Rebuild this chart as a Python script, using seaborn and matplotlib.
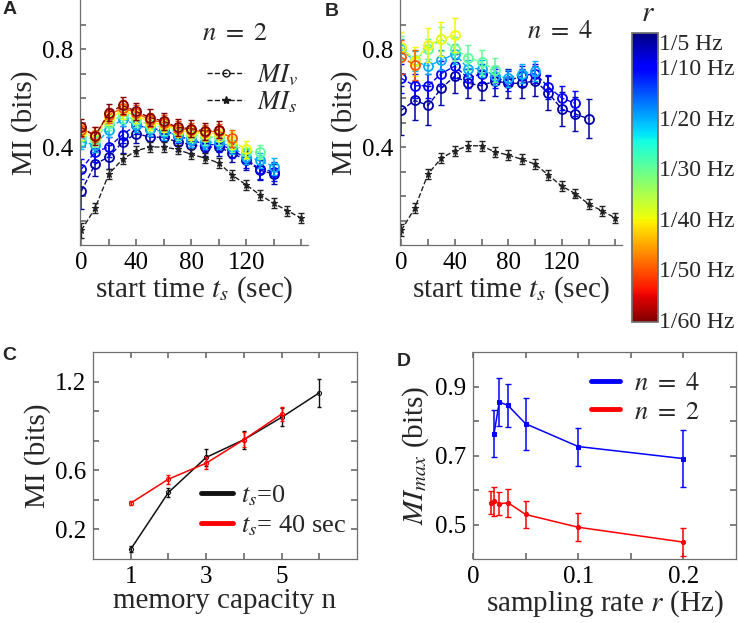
import matplotlib
matplotlib.use("Agg")
import matplotlib.pyplot as plt
from matplotlib.lines import Line2D
from matplotlib import cm, colors
import seaborn as sns

# sampling period 1/r (sec) of every MI_v curve, and the colorbar labels
periods = [5, 10, 20, 30, 40, 50, 60]
period_labels = ["1/5 Hz", "1/10 Hz", "1/20 Hz", "1/30 Hz", "1/40 Hz", "1/50 Hz", "1/60 Hz"]
start_times = [0, 10, 20, 30, 40, 50, 60, 70, 80, 90, 100, 110, 120, 130, 140, 150, 160]

# panel A, n = 2
mis_n2 = [0.06, 0.15, 0.29, 0.35, 0.385, 0.40, 0.40, 0.39, 0.37, 0.355, 0.335, 0.285, 0.245, 0.205, 0.17, 0.14, 0.11]
mis_err_n2 = [0.03, 0.02, 0.02, 0.02, 0.02, 0.02, 0.02, 0.02, 0.02, 0.02, 0.02, 0.02, 0.02, 0.02, 0.02, 0.02, 0.02]
miv_n2 = [
    [0.22, 0.33, 0.36, 0.42, 0.455, 0.44, 0.44, 0.42, 0.41, 0.40, 0.40, 0.375, 0.345, 0.305, 0.29],
    [0.31, 0.38, 0.40, 0.45, 0.49, 0.475, 0.47, 0.445, 0.43, 0.41, 0.41, 0.39, 0.35, 0.31, 0.30],
    [0.42, 0.41, 0.47, 0.515, 0.49, 0.475, 0.46, 0.45, 0.43, 0.42, 0.42, 0.40, 0.36, 0.345, 0.32],
    [0.44, 0.43, 0.50, 0.53, 0.51, 0.49, 0.48, 0.46, 0.45, 0.44, 0.44, 0.41, 0.38, 0.38],
    [0.46, 0.44, 0.52, 0.545, 0.53, 0.50, 0.49, 0.47, 0.46, 0.455, 0.455, 0.425, 0.39],
    [0.47, 0.45, 0.53, 0.56, 0.54, 0.51, 0.50, 0.475, 0.47, 0.46, 0.465, 0.435],
    [0.48, 0.445, 0.54, 0.57, 0.545, 0.52, 0.505, 0.48, 0.475, 0.465, 0.47],
]
miv_err_n2 = [
    [0.075, 0.05, 0.05, 0.045, 0.04, 0.035, 0.035, 0.035, 0.035, 0.035, 0.035, 0.035, 0.04, 0.04, 0.04],
    [0.04, 0.04, 0.04, 0.035, 0.035, 0.03, 0.03, 0.03, 0.03, 0.03, 0.03, 0.035, 0.035, 0.04, 0.04],
    [0.03, 0.03, 0.03, 0.03, 0.03, 0.03, 0.03, 0.03, 0.03, 0.03, 0.03, 0.03, 0.03, 0.03, 0.035],
    [0.03, 0.03, 0.03, 0.03, 0.03, 0.03, 0.03, 0.03, 0.03, 0.03, 0.03, 0.03, 0.03, 0.03],
    [0.03, 0.03, 0.03, 0.03, 0.03, 0.03, 0.03, 0.03, 0.03, 0.03, 0.03, 0.035, 0.035],
    [0.03, 0.03, 0.03, 0.03, 0.03, 0.03, 0.03, 0.03, 0.03, 0.03, 0.03, 0.035],
    [0.035, 0.035, 0.035, 0.035, 0.035, 0.035, 0.035, 0.035, 0.035, 0.035, 0.035],
]

# panel B, n = 4
mis_n4 = [0.06, 0.15, 0.29, 0.355, 0.385, 0.405, 0.405, 0.38, 0.367, 0.35, 0.33, 0.285, 0.24, 0.21, 0.167, 0.14, 0.11]
mis_err_n4 = [0.025, 0.02, 0.02, 0.02, 0.02, 0.02, 0.02, 0.02, 0.02, 0.02, 0.02, 0.02, 0.02, 0.02, 0.02, 0.02, 0.02]
miv_n4 = [
    [0.55, 0.59, 0.57, 0.64, 0.69, 0.66, 0.65, 0.67, 0.66, 0.66, 0.67, 0.62, 0.555, 0.535, 0.515],
    [0.68, 0.65, 0.65, 0.70, 0.73, 0.68, 0.70, 0.68, 0.67, 0.69, 0.70, 0.645, 0.60, 0.578],
    [0.80, 0.75, 0.73, 0.755, 0.78, 0.72, 0.72, 0.69, 0.68, 0.70, 0.71],
    [0.805, 0.755, 0.80, 0.84, 0.80, 0.765, 0.745, 0.715],
    [0.81, 0.75, 0.816, 0.84, 0.857],
    [0.766, 0.735],
    [],
]
miv_err_n4 = [
    [0.1, 0.08, 0.08, 0.07, 0.07, 0.06, 0.06, 0.06, 0.06, 0.06, 0.06, 0.07, 0.07, 0.07, 0.08],
    [0.06, 0.05, 0.05, 0.05, 0.05, 0.04, 0.04, 0.04, 0.04, 0.04, 0.04, 0.05, 0.05, 0.05],
    [0.04, 0.04, 0.03, 0.04, 0.04, 0.035, 0.035, 0.035, 0.035, 0.04, 0.04],
    [0.05, 0.04, 0.04, 0.05, 0.05, 0.05, 0.05, 0.05],
    [0.06, 0.06, 0.07, 0.07, 0.07],
    [0.07, 0.06],
    [],
]

# panel C
mem_n = [1, 2, 3, 4, 5, 6]
mi_ts0 = [0.066, 0.45, 0.687, 0.807, 0.958, 1.124]
mi_ts0_err = [0.02, 0.03, 0.055, 0.06, 0.06, 0.095]
mem_n_ts40 = [1, 2, 3, 4, 5]
mi_ts40 = [0.378, 0.54, 0.648, 0.807, 0.98]
mi_ts40_err = [0.015, 0.03, 0.04, 0.05, 0.05]

# panel D
rates_n4 = [0.02, 0.025, 0.0333, 0.05, 0.1, 0.2]
mimax_n4 = [0.763, 0.855, 0.845, 0.792, 0.726, 0.691]
mimax_n4_err = [0.068, 0.07, 0.063, 0.075, 0.055, 0.082]
rates_n2 = [0.0167, 0.02, 0.025, 0.0333, 0.05, 0.1, 0.2]
mimax_n2 = [0.563, 0.568, 0.56, 0.563, 0.529, 0.492, 0.449]
mimax_n2_err = [0.034, 0.042, 0.033, 0.04, 0.038, 0.04, 0.041]

sns.set_theme(style="ticks")
plt.rcParams["font.family"] = ["Liberation Serif", "DejaVu Serif"]
plt.rcParams["mathtext.fontset"] = "stix"

W, H = 738, 623
fig = plt.figure(figsize=(W / 100, H / 100), dpi=100)


def px_axes(left, top, width, height):
    return fig.add_axes([left / W, 1 - (top + height) / H, width / W, height / H])


GRAY = "#6e6e6e"
TICK_FS = 18
LABEL_FS = 21

norm = colors.Normalize(vmin=3.2, vmax=60.4)
cmap = plt.get_cmap("jet")


def style(ax, box=False):
    for s in ax.spines.values():
        s.set_color(GRAY)
        s.set_linewidth(0.9)
    ax.tick_params(direction="in", length=4, color=GRAY, labelsize=TICK_FS,
                   labelcolor="black", top=box, right=box, pad=5)
    if not box:
        sns.despine(ax=ax)


def draw_mi_panel(ax, mis, mis_err, miv, miv_err):
    for p, vals, errs in zip(periods, miv, miv_err):
        if not vals:
            continue
        c = cmap(norm(p))
        tt = start_times[:len(vals)]
        sns.lineplot(x=tt, y=vals, ax=ax, color=c, linestyle="--", linewidth=1,
                     marker="o", markersize=6.5, markerfacecolor="none",
                     markeredgecolor=c, markeredgewidth=1.3)
        ax.errorbar(tt, vals, yerr=errs, fmt="none", ecolor=c, elinewidth=1.1, capsize=2)
    sns.lineplot(x=start_times, y=mis, ax=ax, color="#222222", linestyle="--", linewidth=1,
                 marker="*", markersize=5, markeredgecolor="#222222", markeredgewidth=0.8)
    ax.errorbar(start_times, mis, yerr=mis_err, fmt="none", ecolor="#222222", elinewidth=1, capsize=2)
    ax.set_xlim(-1, 165)
    ax.set_ylim(0, 1.0)
    ax.set_xticks([0, 20, 40, 60, 80, 100, 120, 140, 160])
    ax.set_xticklabels(["0", "", "40", "", "80", "", "120", "", ""])
    ax.set_yticks([0.1, 0.2, 0.3, 0.4, 0.5, 0.6, 0.7, 0.8, 0.9])
    ax.set_yticklabels(["", "", "", "0.4", "", "", "", "0.8", ""])
    ax.set_xlabel("start time $t_s$ (sec)", fontsize=LABEL_FS, labelpad=0)
    ax.set_ylabel("MI (bits)", fontsize=LABEL_FS, labelpad=3)
    style(ax)


# A
axA = px_axes(80, 0, 228, 245)
draw_mi_panel(axA, mis_n2, mis_err_n2, miv_n2, miv_err_n2)
axA.text(0.68, 0.86, r"$n\ =\ 2$", transform=axA.transAxes, ha="center", va="center", fontsize=19)
handles = [Line2D([], [], color="k", ls="--", lw=1, marker="o", ms=5, mfc="none"),
           Line2D([], [], color="k", ls="--", lw=1, marker="*", ms=6)]
axA.legend(handles, ["$MI_v$", "$MI_s$"], loc="upper left", bbox_to_anchor=(0.5, 0.8),
           frameon=False, fontsize=19, handlelength=1.4, handletextpad=0.5,
           labelspacing=0.05, borderpad=0)

# B
axB = px_axes(400, 0, 222, 245)
draw_mi_panel(axB, mis_n4, mis_err_n4, miv_n4, miv_err_n4)
axB.text(0.72, 0.87, r"$n\ =\ 4$", transform=axB.transAxes, ha="center", va="center", fontsize=19)

# colorbar
cax = px_axes(632, 33, 26, 289)
sm = cm.ScalarMappable(norm=norm, cmap=cmap)
cb = fig.colorbar(sm, cax=cax)
cax.invert_yaxis()
cb.set_ticks(periods)
cb.set_ticklabels(period_labels)
cb.outline.set_edgecolor(GRAY)
cax.tick_params(direction="in", length=3, color="#333333", labelsize=17, pad=1)
fig.text(648 / W, 1 - 14 / H, "$r$", ha="center", va="center", fontsize=21)

# C
axC = px_axes(93, 352, 264, 207)
sns.lineplot(x=mem_n, y=mi_ts0, ax=axC, color="#111111", linewidth=1.1, marker="o", markersize=3,
             markerfacecolor="none", markeredgecolor="#111111", label="$t_s$=0")
axC.errorbar(mem_n, mi_ts0, yerr=mi_ts0_err, fmt="none", ecolor="#111111", elinewidth=1, capsize=1.5)
sns.lineplot(x=mem_n_ts40, y=mi_ts40, ax=axC, color="red", linewidth=1.1, marker="o", markersize=3,
             markerfacecolor="none", markeredgecolor="red", label="$t_s$= 40 sec")
axC.errorbar(mem_n_ts40, mi_ts40, yerr=mi_ts40_err, fmt="none", ecolor="red", elinewidth=1, capsize=1.5)
axC.set_xlim(0, 7)
axC.set_ylim(0, 1.4)
axC.set_xticks([1, 2, 3, 4, 5, 6])
axC.set_xticklabels(["1", "", "3", "", "5", ""])
axC.set_yticks([0.2, 0.4, 0.6, 0.8, 1.0, 1.2])
axC.set_yticklabels(["0.2", "", "0.6", "", "", "1.2"])
axC.set_xlabel("memory capacity n", fontsize=LABEL_FS, labelpad=0)
axC.set_ylabel("MI (bits)", fontsize=LABEL_FS, labelpad=3)
style(axC, box=True)
legC = axC.legend(loc="lower left", bbox_to_anchor=(0.36, 0.04), frameon=False, fontsize=19,
                  handlelength=1.2, handletextpad=0.3, labelspacing=0.2, borderpad=0)
for h in legC.get_lines():
    h.set_linewidth(3.5)
    h.set_marker("")

# D
axD = px_axes(473, 352, 263, 207)
sns.lineplot(x=rates_n4, y=mimax_n4, ax=axD, color="blue", linewidth=1.1, marker="s", markersize=3,
             markeredgecolor="blue", label=r"$n\ =\ 4$")
axD.errorbar(rates_n4, mimax_n4, yerr=mimax_n4_err, fmt="none", ecolor="blue", elinewidth=1.1, capsize=2)
sns.lineplot(x=rates_n2, y=mimax_n2, ax=axD, color="red", linewidth=1.1, marker="o", markersize=3,
             markeredgecolor="red", label=r"$n\ =\ 2$")
axD.errorbar(rates_n2, mimax_n2, yerr=mimax_n2_err, fmt="none", ecolor="red", elinewidth=1.1, capsize=2)
axD.set_xlim(0, 0.25)
axD.set_ylim(0.4, 1.0)
axD.set_xticks([0, 0.05, 0.1, 0.15, 0.2])
axD.set_xticklabels(["0", "", "0.1", "", "0.2"])
axD.set_yticks([0.5, 0.6, 0.7, 0.8, 0.9])
axD.set_yticklabels(["0.5", "", "0.7", "", "0.9"])
axD.set_xlabel("sampling rate $r$ (Hz)", fontsize=LABEL_FS, labelpad=0)
axD.set_ylabel("$MI_{max}$ (bits)", fontsize=LABEL_FS, labelpad=3)
style(axD, box=True)
legD = axD.legend(loc="upper left", bbox_to_anchor=(0.40, 0.97), frameon=False, fontsize=19,
                  handlelength=1.1, handletextpad=0.5, labelspacing=0.2, borderpad=0)
for h in legD.get_lines():
    h.set_linewidth(3.5)
    h.set_marker("")

# panel letters
for letter, x, y in [("A", 10, 10), ("B", 332, 12), ("C", 9, 355), ("D", 404, 362)]:
    fig.text(x / W, 1 - y / H, letter, ha="center", va="center", fontsize=14,
             fontweight="bold", family=["Liberation Sans", "DejaVu Sans"])

fig.savefig("out.png", dpi=100)
